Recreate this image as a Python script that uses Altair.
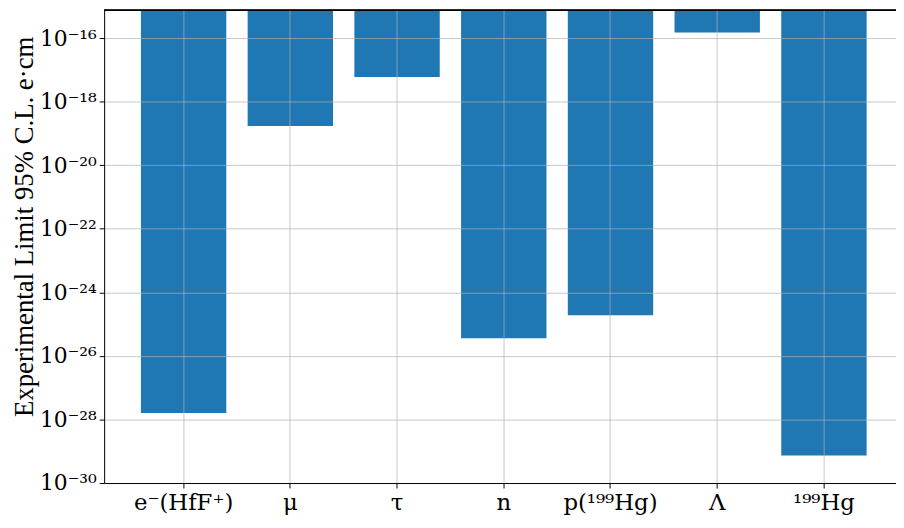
import altair as alt
import pandas as pd

particles = ["e⁻(HfF⁺)", "μ", "τ", "n", "p(¹⁹⁹Hg)", "Λ", "¹⁹⁹Hg"]
limits = [1.6e-28, 1.7e-19, 6.0e-18, 3.6e-26, 1.9e-25, 1.5e-16, 7.4e-30]
y_ticks = [1e-30, 1e-28, 1e-26, 1e-24, 1e-22, 1e-20, 1e-18, 1e-16]
y_tick_labels = ["10⁻³⁰", "10⁻²⁸", "10⁻²⁶", "10⁻²⁴", "10⁻²²", "10⁻²⁰", "10⁻¹⁸", "10⁻¹⁶"]
y_top = 7.5e-16

df = pd.DataFrame({"particle": particles, "limit": limits, "top": [y_top] * len(particles)})

FONT = "DejaVu Serif"
TFONT = "Liberation Serif"
W, H = 799, 477

label_expr = "[" + ",".join("'%s'" % s for s in y_tick_labels) + "][round((log(datum.value)/LN10 + 30)/2)]"

bars = alt.Chart(df).mark_bar(color="#1f77b4").encode(
    x=alt.X("particle:N", sort=particles,
            scale=alt.Scale(paddingInner=0.2, paddingOuter=0.31, align=0.556),
            axis=alt.Axis(title=None, labelAngle=0, grid=True, bandPosition=0.5,
                          labelFont=FONT, labelFontSize=23, labelColor="black",
                          labelPadding=4, tickSize=5, tickColor="black",
                          domainColor="black", gridColor="#b0b0b0", gridOpacity=0.7,
                          zindex=1)),
    y=alt.Y("limit:Q",
            scale=alt.Scale(type="log", domain=[1e-30, y_top], nice=False),
            axis=alt.Axis(values=y_ticks, labelExpr=label_expr, grid=True,
                          title="Experimental Limit 95% C.L. e·cm",
                          titleFont=TFONT, titleFontSize=27, titleFontWeight="normal",
                          titleColor="black", titleX=-80, titleY=218, titleBaseline="middle",
                          labelFont=FONT, labelFontSize=22, labelColor="black",
                          labelPadding=3, tickSize=5, tickColor="black",
                          domainColor="black", gridColor="#b0b0b0", gridOpacity=0.7,
                          zindex=1)),
    y2="top:Q",
)

top_spine = alt.Chart(df).mark_rule(color="black", strokeWidth=1).encode(
    x=alt.value(0), x2=alt.value(W), y=alt.value(0)
)

chart = alt.layer(bars, top_spine).properties(
    width=W, height=H,
    autosize=alt.AutoSizeParams(type="none"),
    padding={"left": 97, "top": 0, "right": 0, "bottom": 35},
).configure_view(stroke=None)

chart.save("out.html", embed_options={"renderer": "svg", "actions": False})
